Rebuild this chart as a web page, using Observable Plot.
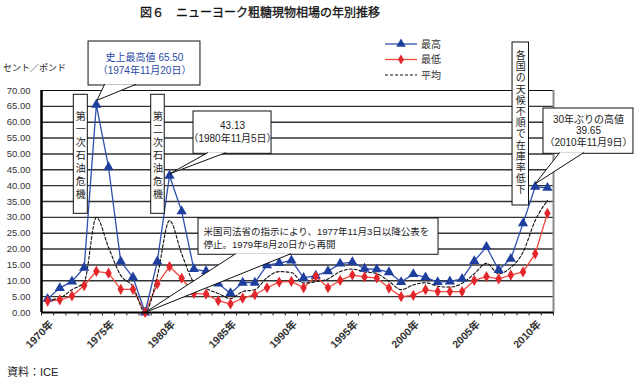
<!DOCTYPE html>
<html><head><meta charset="utf-8">
<script src="https://cdn.jsdelivr.net/npm/d3@7"></script>
<script src="https://cdn.jsdelivr.net/npm/@observablehq/plot@0.6"></script>
<style>
body{margin:0;background:#fff;}
#fig{position:relative;width:637px;height:385px;font-family:"Liberation Sans","Noto Sans CJK JP",sans-serif;color:#222;overflow:hidden;}
.abs{position:absolute;white-space:nowrap;z-index:2;line-height:1;}
#chart{position:absolute;left:0;top:0;z-index:1;}
</style></head><body>
<div id="fig">
  <div id="chart"></div>
  <div class="abs" style="left:140px;top:7px;font-size:12px;color:#111;-webkit-text-stroke:0.3px #111;">図６　ニューヨーク粗糖現物相場の年別推移</div>
  <div class="abs" style="left:3px;top:64px;font-size:9px;">セント／ポンド</div>
  <div class="abs" style="left:7px;top:367px;font-size:11px;">資料：ICE</div>
  <div class="abs" id="legend" style="left:380px;top:36px;"></div>
</div>
<script>
// ---- data ----
const years = [1970,1971,1972,1973,1974,1975,1976,1977,1978,1979,
               1980,1981,1982,1983,1984,1985,1986,1987,1988,1989,
               1990,1991,1992,1993,1994,1995,1996,1997,1998,1999,
               2000,2001,2002,2003,2004,2005,2006,2007,2008,2009,2010,2011];
const high = [4.3,7.7,9.8,14.1,65.5,45.8,16.1,11.1,0,16.1,
              43.13,31.9,13.7,13.0,9.1,6.1,9.4,9.4,14.9,15.6,
              16.4,10.9,11.6,13.0,15.4,15.9,13.8,13.6,12.7,9.6,
              12.1,11.1,9.6,9.8,10.6,16.2,20.7,13.4,16.9,28.1,39.65,39.3];
const low = [3.6,4.0,5.2,8.5,13.0,12.4,7.3,7.3,0,9.0,
             14.5,10.8,6.0,5.8,3.7,2.7,4.5,5.6,7.8,9.6,
             9.8,7.8,11.4,7.8,10.1,11.8,11.2,10.9,7.7,5.0,
             5.4,7.2,6.6,6.6,6.6,10.1,11.3,10.6,11.8,12.8,18.5,31.3];
const avg = [3.9,4.6,7.2,9.6,30.0,20.5,11.7,8.2,0,11.5,
             29.0,18.5,9.6,7.5,6.0,4.4,6.6,7.2,11.0,12.9,
             12.6,9.3,9.7,10.6,12.9,13.7,12.8,12.3,9.8,7.2,
             8.7,9.4,8.3,8.0,9.2,12.2,15.5,12.2,14.2,19.0,29.0,35.3];
const seriesNames = ["最高","最低","平均"];
const yTicks = [0,5,10,15,20,25,30,35,40,45,50,55,60,65,70];
const xLabelYears = [1970,1975,1980,1985,1990,1995,2000,2005,2010];
const notes = {
  record: "史上最高値 65.50\n（1974年11月20日）",
  crisis1: "第一次石油危機",
  crisis2: "第二次石油危機",
  peak1980: "43.13\n（1980年11月5日）",
  suspend: "米国司法省の指示により、1977年11月3日以降公表を\n停止。1979年8月20日から再開",
  weather: "各国の天候不順で在庫率低下",
  high2010: "30年ぶりの高値\n39.65\n（2010年11月9日）"
};

const rows = years.map((year, i) => ({year, high: high[i], low: low[i], avg: avg[i]}));
const boundaries = [...years.map(y => y - 0.5), years[years.length - 1] + 0.5];

// ---- annotation layout (in data units) ----
const boxes = [
  {x1:1973.36, x2:1982.54, y1:71.58, y2:85.45},
  {x1:1972.15, x2:1973.30, y1:31.12, y2:68.65},
  {x1:1978.50, x2:1979.61, y1:31.12, y2:68.65},
  {x1:1981.97, x2:1988.37, y1:50.04, y2:63.38},
  {x1:1982.38, x2:2002.07, y1:18.2, y2:29.64},
  {x1:2008.14, x2:2009.49, y1:33.74, y2:85.14},
  {x1:2010.68, x2:2018.06, y1:50.04, y2:64.32}
];
const pointers = [
  [{x:1974.67,y:71.9},{x:1974.05,y:66.9},{x:1977.21,y:71.9}],
  [{x:1983.12,y:50.36},{x:1980.0,y:43.7},{x:1984.59,y:50.36}],
  [{x:1985.41,y:18.5},{x:1978.0,y:0},{x:1989.93,y:18.5}],
  [{x:2011.99,y:50.36},{x:2010.0,y:40.6},{x:2013.96,y:50.36}]
];

const blueLine = "#2f4fae", blueMark = "#1f3f9f";
const redLine = "#f0493c", redMark = "#e3262b";

const plot = Plot.plot({
  width: 637, height: 385,
  marginLeft: 41, marginRight: 84, marginTop: 90, marginBottom: 73,
  style: {fontFamily: '"Liberation Sans","Noto Sans CJK JP",sans-serif', fontSize: "10px", background: "transparent", color: "#222"},
  x: {type: "linear", domain: [1969.5, 2011.5]},
  y: {domain: [0, 70]},
  marks: [
    Plot.ruleY(yTicks.filter(d => d > 0 && d < 70), {stroke: "#333", strokeWidth: 1.4}),
    Plot.ruleY([70], {stroke: "#111", strokeWidth: 1}),
    Plot.ruleX([2011.5], {stroke: "#888", strokeWidth: 2}),
    Plot.line(rows, {x: "year", y: "low", stroke: redLine, strokeWidth: 1.3}),
    Plot.line(rows, {x: "year", y: "avg", stroke: "#111", strokeWidth: 1.1, strokeDasharray: "3,2", curve: "monotone-x"}),
    Plot.line(rows, {x: "year", y: "high", stroke: blueLine, strokeWidth: 1.3}),
    Plot.dot(rows, {x: "year", y: "high", symbol: "triangle", r: 3.8, fill: blueMark}),
    Plot.dot(rows, {x: "year", y: "low", symbol: "diamond", r: 3.4, fill: redMark}),
    Plot.ruleX([1969.5], {stroke: "#000", strokeWidth: 2.5}),
    Plot.ruleY([0], {stroke: "#000", strokeWidth: 2}),
    Plot.axisY(yTicks, {tickSize: 0, tickPadding: 11, tickFormat: d3.format(".2f"), fontSize: 9.5, fill: "#333", label: null}),
    Plot.axisX(boundaries, {tickSize: 3.5, tickFormat: () => "", stroke: "#222", label: null}),
    Plot.axisX(xLabelYears, {tickSize: 0, tickPadding: 10, tickRotate: -45, tickFormat: d => d + "年", fontSize: 10.5, fontWeight: "bold", fill: "#333", dx: 4, label: null}),
    // annotation boxes
    Plot.rect(boxes, {x1: "x1", x2: "x2", y1: "y1", y2: "y2", fill: "white", stroke: "#111", strokeWidth: 1}),
    ...pointers.map(p => Plot.line(p, {x: "x", y: "y", fill: "white", stroke: "#111", strokeWidth: 1, curve: "linear", strokeLinejoin: "miter"})),
    Plot.text([notes.record], {x: 1977.95, y: 78.5, text: d => d, fill: "#2a49a6", fontSize: 10, lineHeight: 1.25}),
    Plot.text([notes.crisis1], {x: 1972.72, y: 49.6, text: d => [...d].join("\n"), fontSize: 10, lineHeight: 1.3, fill: "#222"}),
    Plot.text([notes.crisis2], {x: 1979.06, y: 49.6, text: d => [...d].join("\n"), fontSize: 10, lineHeight: 1.3, fill: "#222"}),
    Plot.text([notes.peak1980], {x: 1985.17, y: 57.1, text: d => d, fontSize: 10, lineHeight: 1.34, fill: "#222"}),
    Plot.text([notes.suspend], {x: 1982.79, y: 23.6, text: d => d, fontSize: 9.5, lineHeight: 1.35, textAnchor: "start", fill: "#222"}),
    Plot.text([notes.weather], {x: 2008.82, y: 59.9, text: d => [...d].join("\n"), fontSize: 10, lineHeight: 1.12, fill: "#222"}),
    Plot.text([notes.high2010], {x: 2014.37, y: 57.4, text: d => d, fontSize: 10, lineHeight: 1.17, fill: "#222"})
  ]
});
document.getElementById("chart").appendChild(plot);

// ---- legend ----
const lg = d3.select("#legend").append("svg").attr("width", 70).attr("height", 48)
  .style("font-family", '"Liberation Sans","Noto Sans CJK JP",sans-serif').style("font-size", "10px");
const items = [
  {name: seriesNames[0], color: blueLine, mark: d3.symbolTriangle, mcolor: blueMark, dash: null},
  {name: seriesNames[1], color: redLine, mark: d3.symbolDiamond, mcolor: redMark, dash: null},
  {name: seriesNames[2], color: "#111", mark: null, dash: "3,2"}
];
items.forEach((it, i) => {
  const yy = 8 + i * 15.5;
  lg.append("line").attr("x1", 5).attr("x2", 37).attr("y1", yy).attr("y2", yy)
    .attr("stroke", it.color).attr("stroke-width", it.dash ? 1.1 : 1.3).attr("stroke-dasharray", it.dash);
  if (it.mark) lg.append("path").attr("d", d3.symbol(it.mark, it.mark === d3.symbolTriangle ? 40 : 30)())
    .attr("transform", `translate(21,${yy})`).attr("fill", it.mcolor);
  lg.append("text").attr("x", 41).attr("y", yy).attr("dy", "0.35em").attr("fill", "#333").text(it.name);
});
</script>
</body></html>
